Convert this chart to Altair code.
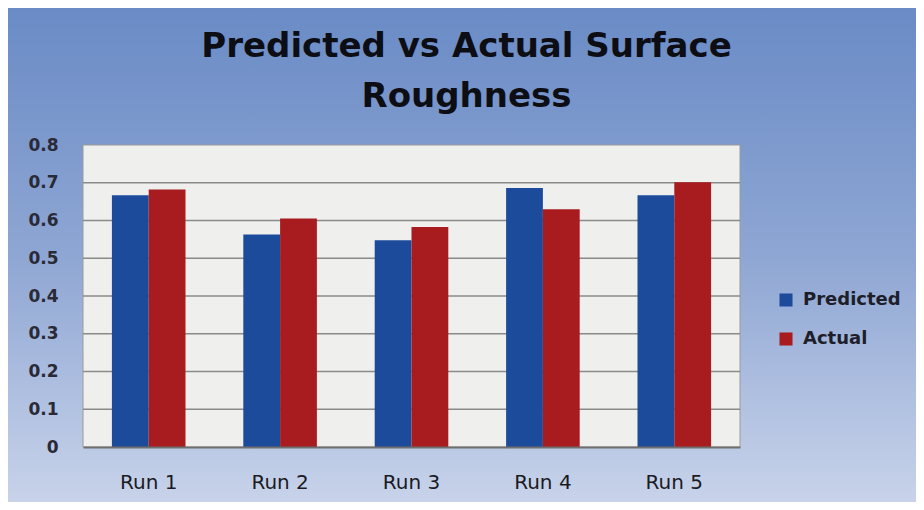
import altair as alt
import pandas as pd

runs = ["Run 1", "Run 2", "Run 3", "Run 4", "Run 5"]
predicted = [0.667, 0.563, 0.548, 0.686, 0.667]
actual = [0.682, 0.605, 0.583, 0.630, 0.701]
series = ["Predicted", "Actual"]
colors = ["#1c4b9c", "#a81b1f"]
y_ticks = [0, 0.1, 0.2, 0.3, 0.4, 0.5, 0.6, 0.7, 0.8]
grid_vals = [0.1, 0.2, 0.3, 0.4, 0.5, 0.6, 0.7]

rows = []
for r, p, a in zip(runs, predicted, actual):
    rows.append({"run": r, "series": "Predicted", "value": p})
    rows.append({"run": r, "series": "Actual", "value": a})
df = pd.DataFrame(rows)

W, H = 657, 302
PL, PT, PR, PB = 75, 137, 176, 55

y_scale = alt.Scale(domain=[0, 0.8])
y_axis = alt.Axis(values=y_ticks,
                  format="~g", labelFont="DejaVu Sans", labelFontSize=17,
                  labelFontWeight="bold", labelColor="#2a2a36",
                  labelPadding=25, ticks=False, domain=False,
                  labelOverlap=False, labelFlush=False,
                  grid=False, zindex=1)

bg = alt.Chart(pd.DataFrame({"a": [0]})).mark_rect(
    fill=alt.LinearGradient(
        gradient="linear", x1=0, y1=0, x2=0, y2=1,
        stops=[alt.GradientStop(offset=0, color="#6a8bc6"),
               alt.GradientStop(offset=0.5, color="#8ea6d3"),
               alt.GradientStop(offset=1, color="#c8d3ea")]
    )
).encode(
    x=alt.value(-PL), x2=alt.value(W + PR),
    y=alt.value(-PT), y2=alt.value(H + PB)
)

plotbg = alt.Chart(pd.DataFrame({"a": [0]})).mark_rect(
    fill="#efefed", stroke="#9a9a9a", strokeWidth=1
).encode(x=alt.value(0), x2=alt.value(W), y=alt.value(0), y2=alt.value(H))

grid = alt.Chart(pd.DataFrame({"value": grid_vals})).mark_rule(
    color="#8a8a8a", strokeWidth=1.5
).encode(y=alt.Y("value:Q", title=None, scale=y_scale, axis=y_axis))

bars = alt.Chart(df).mark_bar().encode(
    x=alt.X("run:N", sort=runs, title=None,
            scale=alt.Scale(paddingInner=0.44, paddingOuter=0.22),
            axis=alt.Axis(labelAngle=0, labelFont="DejaVu Sans", labelFontSize=20,
                          labelColor="#1a1a22", labelPadding=25, ticks=False,
                          domainColor="#6f6f6f", domainWidth=2, grid=False,
                          zindex=1)),
    xOffset=alt.XOffset("series:N", sort=series),
    y=alt.Y("value:Q", title=None, scale=y_scale, axis=y_axis),
    color=alt.Color("series:N", sort=series,
                    scale=alt.Scale(domain=series, range=colors),
                    legend=alt.Legend(title=None, orient="none", legendX=694, legendY=146,
                                      symbolType="square", symbolSize=170,
                                      symbolStrokeWidth=0, zindex=1,
                                      labelFont="DejaVu Sans", labelFontSize=18,
                                      labelFontWeight="bold", labelColor="#1e1e2a",
                                      rowPadding=21, labelOffset=8))
)

chart = alt.layer(bg, plotbg, grid, bars).properties(
    width=W, height=H,
    padding={"left": PL, "top": PT, "right": PR, "bottom": PB},
    autosize=alt.AutoSizeParams(type="none"),
    background="#ffffff",
    title=alt.TitleParams(
        text=["Predicted vs Actual Surface", "Roughness"],
        font="DejaVu Sans", fontSize=34, fontWeight="bold", color="#0d0d14",
        anchor="middle", frame="group", dx=55, offset=-106, lineHeight=50,
        zindex=1
    )
).configure_view(stroke=None)

chart.save("out.html", embed_options={"renderer": "svg", "actions": False})
